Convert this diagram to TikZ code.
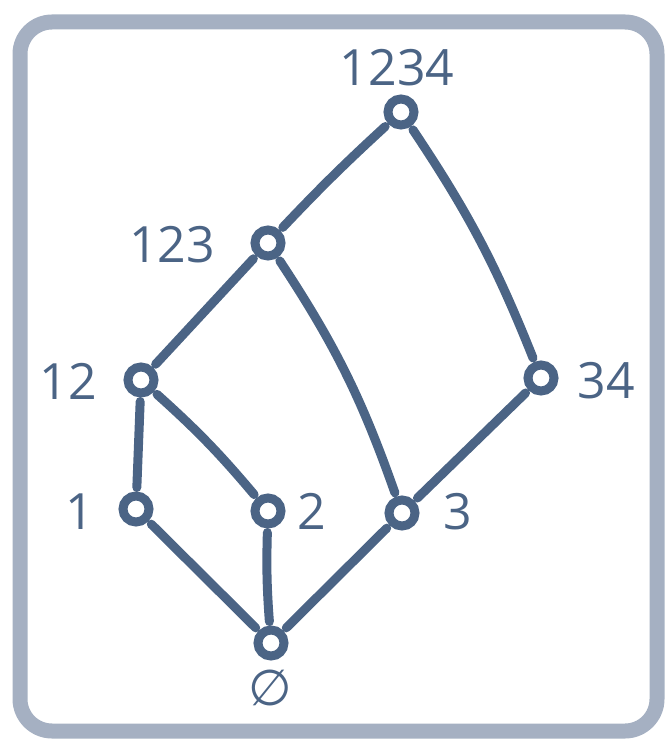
\documentclass[tikz,border=0pt]{standalone}
\usepackage{fontspec}
\setmainfont{Open Sans}
\newfontfamily\symfont{DejaVu Sans}
\usetikzlibrary{positioning}
\definecolor{inkblue}{HTML}{4B6485}
\definecolor{framegray}{HTML}{A5B0C2}

\begin{document}
\begin{tikzpicture}[x=1pt, y=-1pt,
    vtx/.style={draw=inkblue, circle, line width=9pt, fill=white, minimum size=26pt, inner sep=0pt},
    edge/.style={draw=inkblue, line width=9pt, line cap=round, shorten <=4pt, shorten >=4pt},
    lbl/.style={text=inkblue, font=\fontsize{50}{50}\selectfont, inner sep=0pt}]
    \useasboundingbox (0,0) rectangle (669,743);
    \draw[framegray, line width=15pt, rounded corners=32pt] (20,22) rectangle (657,731);

    \node[vtx] (n1234) at (401,112) {};
    \node[vtx] (n123) at (268,243) {};
    \node[vtx] (n12) at (141,380) {};
    \node[vtx] (n34) at (541,378) {};
    \node[vtx] (n1) at (136,509) {};
    \node[vtx] (n2) at (268,511) {};
    \node[vtx] (n3) at (402,513) {};
    \node[vtx] (n0) at (271,643) {};

    \node[lbl] (l1234) at (397,68) {1234};
    \node[lbl] (l123) at (172,245) {123};
    \node[lbl] (l12) at (68,381) {12};
    \node[lbl] (l34) at (606,381) {34};
    \node[lbl] (l1) at (80,512) {1};
    \node[lbl] (l2) at (312,511) {2};
    \node[lbl] (l3) at (458,512) {3};
    \node[lbl] (l0) at (270,688) {\symfont ∅};

    \draw[edge] (n1234) to[bend right=2] (n123);
    \draw[edge] (n1234) to[bend left=6] (n34);
    \draw[edge] (n123) -- (n12);
    \draw[edge] (n123) to[bend left=7] (n3);
    \draw[edge] (n12) -- (n1);
    \draw[edge] (n12) to[bend left=4] (n2);
    \draw[edge] (n34) -- (n3);
    \draw[edge] (n1) -- (n0);
    \draw[edge] (n2) to[bend right=3] (n0);
    \draw[edge] (n3) -- (n0);
\end{tikzpicture}
\end{document}
